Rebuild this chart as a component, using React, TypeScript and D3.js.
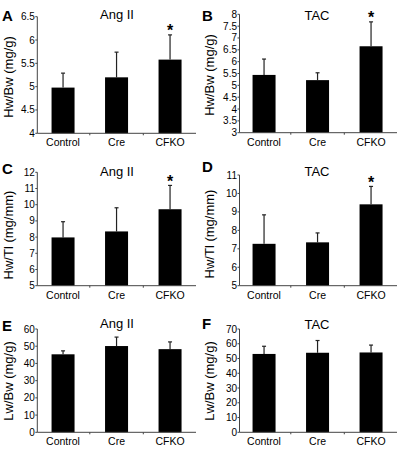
import React from "react";
import * as d3 from "d3";

const categories = ["Control", "Cre", "CFKO"];

const titles = ["Ang II", "TAC", "Ang II", "TAC", "Ang II", "TAC"];
const letters = ["A", "B", "C", "D", "E", "F"];
const yLabels = ["Hw/Bw (mg/g)", "Hw/Bw (mg/g)", "Hw/Tl (mg/mm)", "Hw/Tl (mg/mm)", "Lw/Bw (mg/g)", "Lw/Bw (mg/g)"];

const meanA = [4.98, 5.2, 5.58];
const sdA = [0.31, 0.54, 0.53];
const meanB = [5.44, 5.22, 6.65];
const sdB = [0.67, 0.31, 1.03];
const meanC = [7.98, 8.35, 9.72];
const sdC = [0.97, 1.46, 1.47];
const meanD = [7.27, 7.35, 9.41];
const sdD = [1.57, 0.51, 0.97];
const meanE = [45.3, 50.1, 48.3];
const sdE = [2.0, 5.2, 4.2];
const meanF = [53.1, 53.9, 54.1];
const sdF = [5.2, 8.3, 5.0];

const sigAtoD = [false, false, true];
const sigNone = [false, false, false];

const domains: [number, number][] = [[4, 6.5], [3, 8], [5, 12], [5, 11], [0, 60], [0, 70]];
const tickSteps = [0.5, 0.5, 1, 1, 10, 10];

const means = [meanA, meanB, meanC, meanD, meanE, meanF];
const sds = [sdA, sdB, sdC, sdD, sdE, sdF];
const sigs = [sigAtoD, sigAtoD, sigAtoD, sigAtoD, sigNone, sigNone];

// layout
const cols = [
  { axisX: 37.3, bandStart: 36.3, xEnd: 196, labelX: 12.8, titleX: 117, letterX: 2 },
  { axisX: 239.5, bandStart: 237.3, xEnd: 397, labelX: 214.3, titleX: 317, letterX: 202 },
];
const rows = [
  [{ top: 16.7, bottom: 133.3, titleY: 18.5, letterY: 20.5, labelY: 77 }, { top: 14.3, bottom: 132.7, titleY: 19.5, letterY: 20.5, labelY: 75 }],
  [{ top: 172.3, bottom: 285.7, titleY: 176, letterY: 173.5, labelY: 235 }, { top: 175, bottom: 285.7, titleY: 175.5, letterY: 172, labelY: 234 }],
  [{ top: 329, bottom: 432.3, titleY: 328, letterY: 330.5, labelY: 381 }, { top: 329, bottom: 432.3, titleY: 328.5, letterY: 328.5, labelY: 381 }],
];

const FONT = "Arial, 'Liberation Sans', Helvetica, sans-serif";
const BAR_W = 23;
const BAND_SPAN = 160.5;

function Panel({ idx }: { idx: number }) {
  const c = cols[idx % 2];
  const r = rows[Math.floor(idx / 2)][idx % 2];
  const [lo, hi] = domains[idx];
  const y = d3.scaleLinear().domain([lo, hi]).range([r.bottom, r.top]);
  const x = d3.scaleBand<string>().domain(categories).range([c.bandStart, c.bandStart + BAND_SPAN]).padding(0);
  const step = tickSteps[idx];
  const ticks = d3.range(lo, hi + step / 2, step);
  const fmt = (v: number) => (Math.round(v * 10) / 10).toString();
  const mean = means[idx];
  const sd = sds[idx];
  const sig = sigs[idx];
  const boundaries = categories.slice(1).map((cat) => x(cat) as number);
  return (
    <g fontFamily={FONT}>
      <text x={c.letterX} y={r.letterY} fontSize={15} fontWeight="bold" fill="#000">{letters[idx]}</text>
      <text x={c.titleX} y={r.titleY} fontSize={13} textAnchor="middle" fill="#000">{titles[idx]}</text>
      <text
        transform={`translate(${c.labelX},${r.labelY}) rotate(-90)`}
        fontSize={13}
        textAnchor="middle"
        fill="#000"
      >
        {yLabels[idx]}
      </text>
      {/* bars */}
      {categories.map((cat, i) => {
        const cx = (x(cat) as number) + x.bandwidth() / 2;
        const yTop = y(mean[i]);
        const yErr = y(mean[i] + sd[i]);
        return (
          <g key={cat}>
            <line x1={cx} x2={cx} y1={yTop} y2={yErr} stroke="#222" strokeWidth={1.2} />
            <line x1={cx - 2} x2={cx + 2} y1={yErr} y2={yErr} stroke="#222" strokeWidth={1.2} />
            <rect x={cx - BAR_W / 2} y={yTop} width={BAR_W} height={r.bottom - yTop} fill="#000" />
            {sig[i] && (
              <text x={cx} y={yErr + 1.5} fontSize={16} fontWeight="bold" textAnchor="middle" fill="#000">*</text>
            )}
            <text x={cx} y={r.bottom + 13} fontSize={10.5} textAnchor="middle" fill="#000">{cat}</text>
          </g>
        );
      })}
      {/* y axis */}
      <line x1={c.axisX} x2={c.axisX} y1={r.top} y2={r.bottom} stroke="#444" strokeWidth={1} />
      {ticks.map((t) => (
        <g key={t}>
          <line x1={c.axisX - 2} x2={c.axisX} y1={y(t)} y2={y(t)} stroke="#444" strokeWidth={1} />
          <text x={c.axisX - 2.5} y={y(t) + 3.5} fontSize={10} textAnchor="end" fill="#000">{fmt(t)}</text>
        </g>
      ))}
      {/* x axis */}
      <line x1={c.axisX} x2={c.xEnd} y1={r.bottom} y2={r.bottom} stroke="#444" strokeWidth={1} />
      {boundaries.map((b, i) => (
        <line key={i} x1={b} x2={b} y1={r.bottom} y2={r.bottom + 2} stroke="#444" strokeWidth={1} />
      ))}
    </g>
  );
}

export default function App() {
  return (
    <svg
      width={404}
      height={459}
      viewBox="0 0 404 459"
      style={{ position: "absolute", left: 0, top: 0, background: "#fff" }}
    >
      <rect width={404} height={459} fill="#fff" />
      {d3.range(6).map((i) => (
        <Panel key={i} idx={i} />
      ))}
    </svg>
  );
}
